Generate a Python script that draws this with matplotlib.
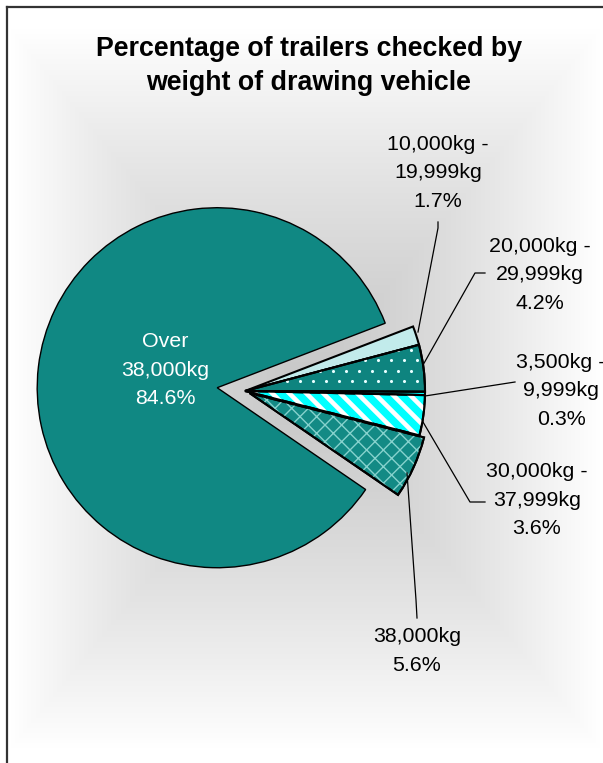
import numpy as np
import matplotlib
matplotlib.use("Agg")
import matplotlib.pyplot as plt
from matplotlib.patches import Wedge
from matplotlib.collections import LineCollection

# ---------------- data ----------------
categories = ["10,000kg -\n19,999kg", "20,000kg -\n29,999kg", "3,500kg -\n9,999kg",
              "30,000kg -\n37,999kg", "38,000kg", "Over\n38,000kg"]
shares = [1.7, 4.2, 0.3, 3.6, 5.6, 84.6]
title = "Percentage of trailers checked by\nweight of drawing vehicle"

# ---------------- styling ----------------
colors = ["#c2ebeb", "#0e847f", "#00ffff", "#00ffff", "#138a85", "#108883"]
explode_px = [0, 0, 0, 0, 5, 28]

W, H = 603, 763
plt.rcParams["font.family"] = ["Liberation Sans", "DejaVu Sans"]
fig = plt.figure(figsize=(W / 100, H / 100), dpi=100)
ax = fig.add_axes([0, 0, 1, 1])
ax.set_axis_off()

# background: rectangular "from centre" gradient inside chart frame
yy, xx = np.mgrid[0:H, 0:W]
cx, cy, hw, hh = 305.0, 388.0, 295.0, 360.0
t = np.maximum(np.abs(xx - cx) / hw, np.abs(yy - cy) / hh)
t = np.clip(t, 0, 1)
g = 0.785 + 0.215 * t ** 1.3
g[(xx < 8) | (yy < 8)] = 1.0
img = np.dstack([g, g, g])
ax.imshow(img, extent=(0, W, 0, H), origin="upper", zorder=0, aspect="auto")

# frame lines (left & top)
ax.plot([7, 7], [0, H - 7], color="#333333", lw=1.6, zorder=1, solid_capstyle="projecting")
ax.plot([7, W], [H - 7, H - 7], color="#333333", lw=1.6, zorder=1, solid_capstyle="projecting")

def py(y):
    return H - y

wedges, _ = ax.pie(shares, colors=colors, startangle=21, counterclock=False,
                   center=(245, py(391)), radius=180, explode=explode_px,
                   wedgeprops=dict(edgecolor="black", linewidth=1.5))
wedges[-1].set_linewidth(1.0)
for w in wedges:
    w.set_zorder(2)

def clip_wedge(w):
    cp = Wedge(w.center, w.r, w.theta1, w.theta2, facecolor="none", edgecolor="none")
    cp.set_transform(ax.transData)
    return cp

def outline(w):
    ax.add_patch(Wedge(w.center, w.r, w.theta1, w.theta2, facecolor="none",
                       edgecolor="black", linewidth=1.5, zorder=4))

# dots texture on 20,000-29,999 slice
w = wedges[1]
x0, y0 = w.center
pts = []
for r_i, yv in enumerate(np.arange(y0 - 200, y0 + 200, 10.5)):
    off = 6.5 if r_i % 2 else 0
    for xv in np.arange(x0 - 10 + off, x0 + 200, 13):
        pts.append((xv, yv))
pts = np.array(pts)
sc = ax.scatter(pts[:, 0], pts[:, 1], s=5, c="#e8ffff", lw=0, zorder=3)
sc.set_clip_path(clip_wedge(w))
outline(w)

# diagonal stripes on 30,000-37,999 slice
w = wedges[3]
x0, y0 = w.center
segs = []
for c in np.arange(-400, 400, 17):
    segs.append([(x0 + c - 300, y0 + 300), (x0 + c + 300, y0 - 300)])
lc = LineCollection(segs, colors="white", linewidths=3.3, zorder=3)
lc.set_clip_path(clip_wedge(w))
ax.add_collection(lc)
outline(w)

# weave-like pattern on 38,000kg slice
w = wedges[4]
with plt.rc_context({"hatch.linewidth": 1.0}):
    hp = Wedge(w.center, w.r, w.theta1, w.theta2, facecolor="none",
               edgecolor="#86d2cd", hatch="xx", linewidth=0, zorder=3)
ax.add_patch(hp)
outline(w)

ax.set_xlim(0, W)
ax.set_ylim(0, H)
ax.set_aspect("auto")

# labels
fs = 15.4
ls = 1.66
label_pos = [(438, 173), (540, 275), (561, 391), (537, 500), (417, 651)]
for i, (lx, ly) in enumerate(label_pos):
    ax.text(lx, py(ly), f"{categories[i]}\n{shares[i]:.1f}%", ha="center", va="center",
            fontsize=fs, color="black", linespacing=ls, zorder=6)
ax.text(165, py(370), f"{categories[5]}\n{shares[5]:.1f}%", ha="center", va="center",
        fontsize=fs, color="white", linespacing=ls, zorder=6)

# leader lines
leaders = [
    [(438, 222), (438, 228), (418, 332)],
    [(485, 273), (475, 273), (423, 365)],
    [(515, 382), (425, 396)],
    [(485, 502), (470, 502), (423, 422)],
    [(417, 618), (416, 600), (407, 473)],
]
for pts_l in leaders:
    xs = [p[0] for p in pts_l]
    ys = [py(p[1]) for p in pts_l]
    ax.plot(xs, ys, color="black", lw=0.9, zorder=5)

ax.text(309, py(66), title, ha="center", va="center", fontsize=19.3,
        fontweight="bold", linespacing=1.36, zorder=6)

fig.savefig("out.png", dpi=100)
